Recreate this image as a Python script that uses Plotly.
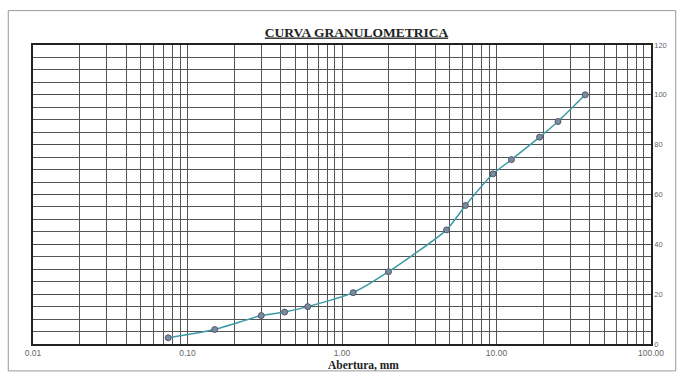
import plotly.graph_objects as go

# Sieve openings (mm) and cumulative percent passing
abertura_mm = [0.075, 0.15, 0.30, 0.425, 0.60, 1.18, 2.00, 4.75, 6.30, 9.50, 12.5, 19.0, 25.0, 37.5]
pasa_pct = [2.5, 5.8, 11.4, 12.8, 15.0, 20.6, 29.0, 45.8, 55.6, 68.3, 74.0, 83.0, 89.3, 100.0]

# Log grid: lines at 1..9 of every decade, labels only on decades
decades = [0.01, 0.1, 1, 10]
decade_labels = ["0.01", "0.10", "1.00", "10.00", "100.00"]
y_ticks = [0, 20, 40, 60, 80, 100, 120]

grid_vals, grid_text = [], []
for i, d in enumerate(decades):
    for m in range(1, 10):
        grid_vals.append(d * m)
        grid_text.append(decade_labels[i] if m == 1 else "")
grid_vals.append(100)
grid_text.append(decade_labels[-1])

fig = go.Figure()
fig.add_trace(go.Scatter(
    x=abertura_mm, y=pasa_pct,
    mode="lines+markers",
    line=dict(color="#3c9aa6", width=1.5, shape="spline", smoothing=0.6),
    marker=dict(symbol="circle", size=6, color="#7a8aa0",
                line=dict(color="#505a6a", width=1)),
    showlegend=False,
))

fig.update_layout(
    width=679, height=374,
    margin=dict(l=33, r=18, t=45, b=30),
    paper_bgcolor="white", plot_bgcolor="white",
    title=dict(
        text="<b><u>CURVA GRANULOMETRICA</u></b>",
        x=0.525, xanchor="center", y=0.915, yanchor="middle",
        font=dict(family="Liberation Serif", size=13.5, color="#222"),
    ),
    xaxis=dict(
        type="log", range=[-2, 2],
        tickmode="array", tickvals=grid_vals, ticktext=grid_text,
        showgrid=True, gridcolor="#555", gridwidth=1,
        ticks="", showline=True, linecolor="#222", linewidth=1.5, mirror=True,
        tickfont=dict(family="Liberation Sans", size=8.5, color="#666"),
        zeroline=False,
    ),
    yaxis=dict(
        side="right", range=[0, 120],
        tickmode="array", tickvals=y_ticks,
        showgrid=True, gridcolor="#4a4a4a", gridwidth=1,
        minor=dict(dtick=5, showgrid=True, gridcolor="#555", gridwidth=1),
        ticks="", showline=True, linecolor="#222", linewidth=1.5, mirror=True,
        tickfont=dict(family="Liberation Sans", size=7.5, color="#666"),
        zeroline=False,
    ),
)

# X-axis title, set slightly right of centre
fig.add_annotation(
    text="<b>Abertura, mm</b>", xref="paper", yref="paper",
    x=0.535, y=-0.07, xanchor="center", yanchor="middle", showarrow=False,
    font=dict(family="Liberation Serif", size=11.5, color="#222"),
)

# Page border around the chart
fig.add_shape(type="rect", xref="paper", yref="paper",
              x0=-0.04, x1=1.04, y0=-0.09, y1=1.115,
              line=dict(color="#999", width=1))

fig.write_html("out.html")
